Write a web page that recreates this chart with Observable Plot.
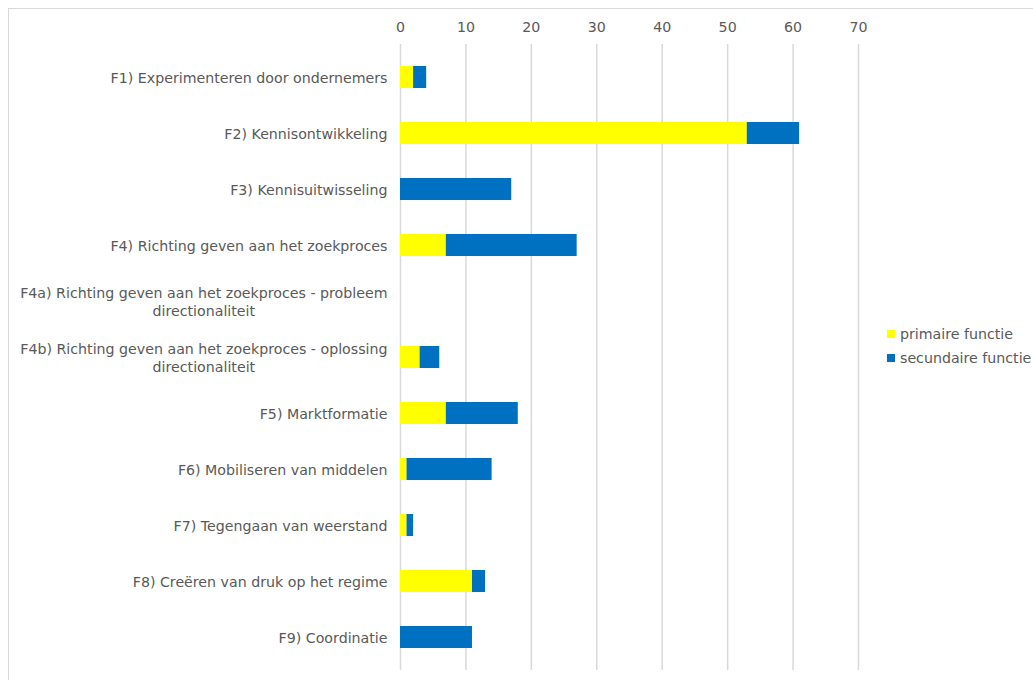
<!DOCTYPE html>
<html>
<head>
<meta charset="utf-8">
<script src="https://cdn.jsdelivr.net/npm/d3@7"></script>
<script src="https://cdn.jsdelivr.net/npm/@observablehq/plot@0.6"></script>
<style>
  html, body { margin: 0; padding: 0; background: #fff; }
  body { width: 1033px; height: 680px; position: relative; overflow: hidden; font-family: "DejaVu Sans", Verdana, sans-serif; }
  #frame { position: absolute; left: 8px; top: 8px; width: 1100px; height: 700px; border: 1px solid #d9d9d9; box-sizing: border-box; }
  #chart { position: absolute; left: 0; top: 0; }
  #legend { position: absolute; left: 887px; top: 322px; font-size: 14.2px; color: #595959; line-height: 24px; white-space: nowrap; }
  #legend .sw { display: inline-block; width: 8px; height: 8px; margin-right: 5px; vertical-align: 1px; }
</style>
</head>
<body>
<div id="frame"></div>
<div id="chart"></div>
<div id="legend"></div>
<script>
const categories = [
  "F1) Experimenteren door ondernemers",
  "F2) Kennisontwikkeling",
  "F3) Kennisuitwisseling",
  "F4) Richting geven aan het zoekproces",
  "F4a) Richting geven aan het zoekproces - probleem\ndirectionaliteit",
  "F4b) Richting geven aan het zoekproces - oplossing\ndirectionaliteit",
  "F5) Marktformatie",
  "F6) Mobiliseren van middelen",
  "F7) Tegengaan van weerstand",
  "F8) Creëren van druk op het regime",
  "F9) Coordinatie"
];
const primaire   = [2, 53, 0, 7, 0, 3, 7, 1, 1, 11, 0];
const secundaire = [2, 8, 17, 20, 0, 3, 11, 13, 1, 2, 11];
const seriesNames = ["primaire functie", "secundaire functie"];
const seriesColors = ["#FFFF00", "#0070C0"];
const xTicks = [0, 10, 20, 30, 40, 50, 60, 70];

const rows = [];
categories.forEach((c, i) => {
  rows.push({cat: c, series: seriesNames[0], value: primaire[i]});
  rows.push({cat: c, series: seriesNames[1], value: secundaire[i]});
});

const chart = Plot.plot({
  width: 1033,
  height: 680,
  marginLeft: 400,
  marginRight: 175,
  marginTop: 44,
  marginBottom: 10,
  style: {fontFamily: "'DejaVu Sans', Verdana, sans-serif", fontSize: "14.2px", color: "#595959", background: "transparent"},
  x: {domain: [0, 70]},
  y: {domain: categories, paddingInner: 0.6, paddingOuter: 0.3},
  color: {domain: seriesNames, range: seriesColors},
  marks: [
    Plot.gridX(xTicks, {stroke: "#d9d9d9", strokeOpacity: 1, strokeWidth: 1.5}),
    Plot.barX(rows, Plot.stackX({x: "value", y: "cat", fill: "series", order: seriesNames})),
    Plot.axisX({anchor: "top", ticks: xTicks, tickSize: 0, tickPadding: 13, label: null, fill: "#595959"}),
    Plot.axisY({tickSize: 0, tickPadding: 13, label: null, fill: "#595959", lineHeight: 1.25})
  ]
});
document.getElementById("chart").appendChild(chart);

// center wrapped category labels like the original (Excel wraps centered)
chart.querySelectorAll("g[aria-label='y-axis tick label'] text").forEach(t => {
  const spans = t.querySelectorAll("tspan");
  if (spans.length > 1) {
    const w = spans[0].getComputedTextLength();
    t.setAttribute("text-anchor", "middle");
    spans.forEach(s => s.setAttribute("x", -w / 2));
  }
});

const legend = document.getElementById("legend");
seriesNames.forEach((n, i) => {
  const d = document.createElement("div");
  d.innerHTML = `<span class="sw" style="background:${seriesColors[i]}"></span>${n}`;
  legend.appendChild(d);
});
</script>
</body>
</html>
